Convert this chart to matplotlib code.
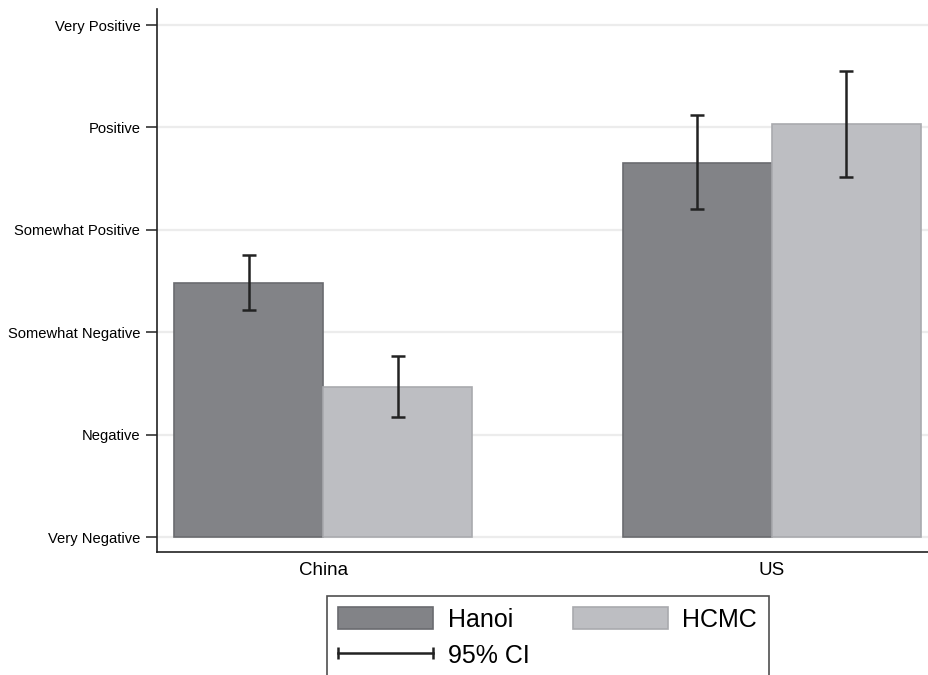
import matplotlib
matplotlib.use('Agg')
import matplotlib.pyplot as plt
from matplotlib.patches import Patch
from matplotlib.lines import Line2D
from matplotlib.legend_handler import HandlerLine2D
import numpy as np

plt.rcParams['font.family'] = ['Liberation Sans', 'DejaVu Sans']

countries = ['China', 'US']
cities = ['Hanoi', 'HCMC']
scale_labels = ['Very Negative', 'Negative', 'Somewhat Negative',
                'Somewhat Positive', 'Positive', 'Very Positive']

# mean rating (1 = Very Negative ... 6 = Very Positive) and 95% CI bounds
hanoi_mean = [3.48, 4.65]
hanoi_lo = [3.22, 4.20]
hanoi_hi = [3.75, 5.12]
hcmc_mean = [2.46, 5.03]
hcmc_lo = [2.17, 4.52]
hcmc_hi = [2.77, 5.55]

colors = {'Hanoi': '#828387', 'HCMC': '#bdbec2'}
edges = {'Hanoi': '#6a6b6f', 'HCMC': '#a9aaae'}

fig = plt.figure(figsize=(9.29, 6.75), dpi=100)
ax = fig.add_axes([157/929, 1-552/675, 1-157/929, (552-9)/675])

x = np.arange(len(countries))
w = 0.332
series = [('Hanoi', hanoi_mean, hanoi_lo, hanoi_hi, -w/2),
          ('HCMC', hcmc_mean, hcmc_lo, hcmc_hi, w/2)]
for name, m, lo, hi, off in series:
    m = np.array(m); lo = np.array(lo); hi = np.array(hi)
    ax.bar(x + off, m - 1, w, bottom=1, color=colors[name],
           edgecolor=edges[name], linewidth=1.2, zorder=2)
    ax.errorbar(x + off, m, yerr=[m - lo, hi - m], fmt='none',
                ecolor='#222222', elinewidth=1.8, capsize=5,
                capthick=1.8, zorder=3)

ax.set_xlim(-0.37, 1.35)
ax.set_ylim(1 - 15/102.4, 6 + 16/102.4)
ax.set_yticks(range(1, 7))
ax.set_yticklabels(scale_labels, fontsize=10.6)
ax.set_xticks(x)
ax.set_xticklabels(countries, fontsize=13.5)
ax.tick_params(axis='x', length=0, pad=7)
ax.tick_params(axis='y', length=8, width=1.1, pad=4, color='#222222')
ax.grid(axis='y', color='#ececec', linewidth=1.6, zorder=0)
ax.set_axisbelow(True)
for s in ['top', 'right']:
    ax.spines[s].set_visible(False)
for s in ['left', 'bottom']:
    ax.spines[s].set_linewidth(1.2)
    ax.spines[s].set_color('#222222')

ci_line = Line2D([], [], color='#222222', lw=1.8, marker='|', markersize=9,
                 markeredgewidth=1.8)
handles = [Patch(facecolor=colors['Hanoi'], edgecolor=edges['Hanoi'], linewidth=1.2),
           ci_line,
           Patch(facecolor=colors['HCMC'], edgecolor=edges['HCMC'], linewidth=1.2)]
labels = ['Hanoi', '95% CI', 'HCMC']
lgd = fig.legend(handles, labels, loc='upper left', ncol=2,
                 bbox_to_anchor=(327/929, 1-596/675), borderaxespad=0,
                 fontsize=18, frameon=True, fancybox=False, numpoints=2,
                 handlelength=3.8, handleheight=0.98, handletextpad=0.6,
                 columnspacing=1.7, labelspacing=0.45, borderpad=0.45,
                 handler_map={ci_line: HandlerLine2D(marker_pad=0)})
lgd.get_frame().set_edgecolor('#222222')
lgd.get_frame().set_linewidth(1.2)

plt.savefig('out.png', dpi=100)
